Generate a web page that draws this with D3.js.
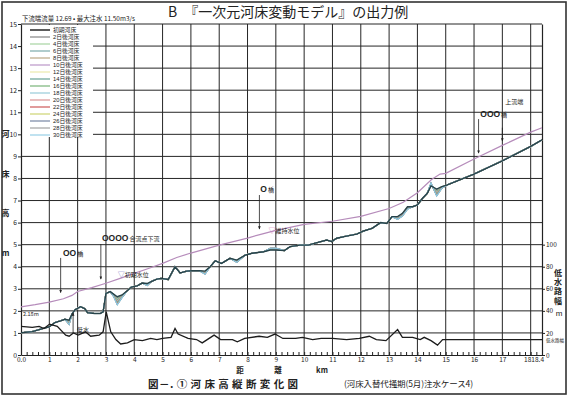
<!DOCTYPE html>
<html>
<head>
<meta charset="utf-8">
<script src="https://cdn.jsdelivr.net/npm/d3@7"></script>
<style>
  html, body { margin: 0; padding: 0; background: #fff; }
  svg { display: block; font-family: "Noto Sans CJK JP", "Noto Sans", sans-serif; }
</style>
</head>
<body>
<div id="chart"></div>
<script>
// --- data ---
const bedKm = [0,0.4,0.8,1.0,1.2,1.4,1.55,1.7,1.8,1.9, 2.1,2.25,2.35,2.6,2.8,2.9,3.0,3.15,3.27,3.4,
  3.57,3.75,3.9,4.1,4.28,4.46,4.6,4.8,4.95,5.2, 5.44,5.62,5.85,6.05,6.3,6.5,6.68,6.86,7.08,7.38,
  7.62,7.92,8.16,8.57,8.8,9.0,9.3,9.5,9.85,10.15, 10.45,10.8,10.97,11.15,11.5,11.86,12.1,12.4,12.7,12.92,
  13.1,13.3,13.47,13.65,13.83,14.0,14.18,14.35,14.48,14.68, 14.86,15.04,16.0,17.0,18.0,18.4];

const initialBed = [1.01,1.06,1.21,1.28,1.47,1.55,1.62,1.58,1.85,2.04, 2.19,2.1,1.92,1.88,1.88,1.96,2.79,2.87,2.76,2.64,
  2.72,2.91,3.08,3.13,3.26,3.24,3.33,3.44,3.47,3.42, 4.0,3.72,3.8,3.82,3.82,3.8,4.0,4.27,4.15,4.38,
  4.3,4.53,4.61,4.68,4.76,4.76,4.73,4.91,4.98,4.98, 5.09,5.21,5.14,5.29,5.39,5.48,5.62,5.74,6.0,5.96,
  6.27,6.27,6.42,6.72,6.72,6.8,7.1,7.33,7.66,7.52, 7.63,7.7,8.2,8.8,9.45,9.75];

const dayLabels = ["2日後河床","4日後河床","6日後河床","8日後河床","10日後河床","12日後河床","14日後河床",
  "16日後河床","18日後河床","20日後河床","22日後河床","24日後河床","26日後河床","28日後河床","30日後河床"];

const dayColors = ["#7a7a7a","#9fcf9a","#6fa3a3","#b59f78","#b48cc4","#e9e7a4","#5a9a8a",
  "#6cae6c","#8fc6d6","#d88a8a","#c84a4a","#c9d064","#6a7a9c","#9a9a9a","#8ccbe4"];

const dayBeds = [
  [1.01,1.06,1.21,1.28,1.47,1.55,1.62,1.55,1.85,2.04, 2.19,2.1,1.92,1.88,1.88,1.96,2.79,2.87,2.75,2.58, 2.71,2.91,3.08,3.13,3.26,3.23,3.33,3.44,3.47,3.42, 4.0,3.72,3.8,3.82,3.82,3.78,4.0,4.27,4.15,4.38, 4.29,4.53,4.61,4.68,4.77,4.77,4.73,4.91,4.98,4.98, 5.09,5.21,5.14,5.29,5.39,5.48,5.62,5.74,6.0,5.96, 6.27,6.25,6.40,6.71,6.72,6.8,7.1,7.33,7.68,7.48, 7.62,7.7,8.2,8.8,9.45,9.75],
  [1.01,1.06,1.21,1.28,1.47,1.55,1.62,1.52,1.85,2.04, 2.19,2.1,1.92,1.88,1.88,1.96,2.79,2.87,2.74,2.53, 2.70,2.91,3.08,3.13,3.26,3.22,3.33,3.44,3.47,3.42, 4.0,3.72,3.8,3.82,3.82,3.76,4.0,4.27,4.15,4.38, 4.28,4.53,4.61,4.68,4.78,4.78,4.73,4.91,4.98,4.98, 5.09,5.21,5.14,5.29,5.39,5.48,5.62,5.74,6.0,5.96, 6.27,6.24,6.39,6.70,6.72,6.8,7.1,7.33,7.70,7.44, 7.61,7.7,8.2,8.8,9.45,9.75],
  [1.01,1.06,1.21,1.28,1.47,1.55,1.62,1.50,1.85,2.04, 2.19,2.1,1.92,1.88,1.88,1.96,2.79,2.87,2.73,2.49, 2.69,2.91,3.08,3.13,3.26,3.21,3.33,3.44,3.47,3.42, 4.0,3.72,3.8,3.82,3.82,3.75,4.0,4.27,4.15,4.38, 4.27,4.53,4.61,4.68,4.78,4.79,4.73,4.91,4.98,4.98, 5.09,5.21,5.14,5.29,5.39,5.48,5.62,5.74,6.0,5.96, 6.27,6.23,6.38,6.69,6.72,6.8,7.1,7.33,7.71,7.41, 7.60,7.7,8.2,8.8,9.45,9.75],
  [1.01,1.06,1.21,1.28,1.47,1.55,1.62,1.48,1.85,2.04, 2.19,2.1,1.92,1.88,1.88,1.96,2.79,2.87,2.72,2.45, 2.68,2.91,3.08,3.13,3.26,3.20,3.33,3.44,3.47,3.42, 4.0,3.72,3.8,3.82,3.82,3.74,4.0,4.27,4.15,4.38, 4.26,4.53,4.61,4.68,4.79,4.80,4.73,4.91,4.98,4.98, 5.09,5.21,5.14,5.29,5.39,5.48,5.62,5.74,6.0,5.96, 6.27,6.22,6.37,6.68,6.72,6.8,7.1,7.33,7.72,7.38, 7.60,7.7,8.2,8.8,9.45,9.75],
  [1.01,1.06,1.21,1.28,1.47,1.55,1.62,1.46,1.85,2.04, 2.19,2.1,1.92,1.88,1.88,1.96,2.79,2.87,2.71,2.42, 2.67,2.91,3.08,3.13,3.26,3.20,3.33,3.44,3.47,3.42, 4.0,3.72,3.8,3.82,3.82,3.73,4.0,4.27,4.15,4.38, 4.25,4.53,4.61,4.68,4.80,4.80,4.73,4.91,4.98,4.98, 5.09,5.21,5.14,5.29,5.39,5.48,5.62,5.74,6.0,5.96, 6.27,6.21,6.36,6.67,6.72,6.8,7.1,7.33,7.73,7.35, 7.59,7.7,8.2,8.8,9.45,9.75],
  [1.01,1.06,1.21,1.28,1.47,1.55,1.62,1.45,1.85,2.04, 2.19,2.1,1.92,1.88,1.88,1.96,2.79,2.87,2.70,2.40, 2.66,2.91,3.08,3.13,3.26,3.19,3.33,3.44,3.47,3.42, 4.0,3.72,3.8,3.82,3.82,3.72,4.0,4.27,4.15,4.38, 4.24,4.53,4.61,4.68,4.80,4.81,4.73,4.91,4.98,4.98, 5.09,5.21,5.14,5.29,5.39,5.48,5.62,5.74,6.0,5.96, 6.27,6.20,6.35,6.66,6.72,6.8,7.1,7.33,7.74,7.33, 7.59,7.7,8.2,8.8,9.45,9.75],
  [1.01,1.06,1.21,1.28,1.47,1.55,1.62,1.44,1.85,2.04, 2.19,2.1,1.92,1.88,1.88,1.96,2.79,2.87,2.70,2.38, 2.65,2.91,3.08,3.13,3.26,3.18,3.33,3.44,3.47,3.42, 4.0,3.72,3.8,3.82,3.82,3.71,4.0,4.27,4.15,4.38, 4.24,4.53,4.61,4.68,4.81,4.81,4.73,4.91,4.98,4.98, 5.09,5.21,5.14,5.29,5.39,5.48,5.62,5.74,6.0,5.96, 6.27,6.19,6.34,6.65,6.72,6.8,7.1,7.33,7.75,7.31, 7.58,7.7,8.2,8.8,9.45,9.75],
  [1.01,1.06,1.21,1.28,1.47,1.55,1.62,1.43,1.85,2.04, 2.19,2.1,1.92,1.88,1.88,1.96,2.79,2.87,2.69,2.36, 2.64,2.91,3.08,3.13,3.26,3.18,3.33,3.44,3.47,3.42, 4.0,3.72,3.8,3.82,3.82,3.70,4.0,4.27,4.15,4.38, 4.23,4.53,4.61,4.68,4.81,4.82,4.73,4.91,4.98,4.98, 5.09,5.21,5.14,5.29,5.39,5.48,5.62,5.74,6.0,5.96, 6.27,6.18,6.33,6.64,6.72,6.8,7.1,7.33,7.76,7.29, 7.58,7.7,8.2,8.8,9.45,9.75],
  [1.01,1.06,1.21,1.28,1.47,1.55,1.62,1.42,1.85,2.04, 2.19,2.1,1.92,1.88,1.88,1.96,2.79,2.87,2.68,2.34, 2.63,2.91,3.08,3.13,3.26,3.17,3.33,3.44,3.47,3.42, 4.0,3.72,3.8,3.82,3.82,3.70,4.0,4.27,4.15,4.38, 4.22,4.53,4.61,4.68,4.82,4.82,4.73,4.91,4.98,4.98, 5.09,5.21,5.14,5.29,5.39,5.48,5.62,5.74,6.0,5.96, 6.27,6.18,6.33,6.64,6.72,6.8,7.1,7.33,7.76,7.27, 7.57,7.7,8.2,8.8,9.45,9.75],
  [1.01,1.06,1.21,1.28,1.47,1.55,1.62,1.41,1.85,2.04, 2.19,2.1,1.92,1.88,1.88,1.96,2.79,2.87,2.68,2.33, 2.63,2.91,3.08,3.13,3.26,3.17,3.33,3.44,3.47,3.42, 4.0,3.72,3.8,3.82,3.82,3.69,4.0,4.27,4.15,4.38, 4.22,4.53,4.61,4.68,4.82,4.83,4.73,4.91,4.98,4.98, 5.09,5.21,5.14,5.29,5.39,5.48,5.62,5.74,6.0,5.96, 6.27,6.17,6.32,6.63,6.72,6.8,7.1,7.33,7.77,7.26, 7.57,7.7,8.2,8.8,9.45,9.75],
  [1.01,1.06,1.21,1.28,1.47,1.55,1.62,1.40,1.85,2.04, 2.19,2.1,1.92,1.88,1.88,1.96,2.79,2.87,2.67,2.31, 2.62,2.91,3.08,3.13,3.26,3.16,3.33,3.44,3.47,3.42, 4.0,3.72,3.8,3.82,3.82,3.68,4.0,4.27,4.15,4.38, 4.21,4.53,4.61,4.68,4.83,4.83,4.73,4.91,4.98,4.98, 5.09,5.21,5.14,5.29,5.39,5.48,5.62,5.74,6.0,5.96, 6.27,6.17,6.32,6.63,6.72,6.8,7.1,7.33,7.78,7.24, 7.56,7.7,8.2,8.8,9.45,9.75],
  [1.01,1.06,1.21,1.28,1.47,1.55,1.62,1.40,1.85,2.04, 2.19,2.1,1.92,1.88,1.88,1.96,2.79,2.87,2.67,2.30, 2.62,2.91,3.08,3.13,3.26,3.16,3.33,3.44,3.47,3.42, 4.0,3.72,3.8,3.82,3.82,3.68,4.0,4.27,4.15,4.38, 4.21,4.53,4.61,4.68,4.83,4.84,4.73,4.91,4.98,4.98, 5.09,5.21,5.14,5.29,5.39,5.48,5.62,5.74,6.0,5.96, 6.27,6.16,6.31,6.62,6.72,6.8,7.1,7.33,7.78,7.23, 7.56,7.7,8.2,8.8,9.45,9.75],
  [1.01,1.06,1.21,1.28,1.47,1.55,1.62,1.39,1.85,2.04, 2.19,2.1,1.92,1.88,1.88,1.96,2.79,2.87,2.66,2.29, 2.61,2.91,3.08,3.13,3.26,3.15,3.33,3.44,3.47,3.42, 4.0,3.72,3.8,3.82,3.82,3.67,4.0,4.27,4.15,4.38, 4.20,4.53,4.61,4.68,4.83,4.84,4.73,4.91,4.98,4.98, 5.09,5.21,5.14,5.29,5.39,5.48,5.62,5.74,6.0,5.96, 6.27,6.16,6.31,6.62,6.72,6.8,7.1,7.33,7.79,7.22, 7.56,7.7,8.2,8.8,9.45,9.75],
  [1.01,1.06,1.21,1.28,1.47,1.55,1.62,1.38,1.85,2.04, 2.19,2.1,1.92,1.88,1.88,1.96,2.79,2.87,2.66,2.28, 2.61,2.91,3.08,3.13,3.26,3.15,3.33,3.44,3.47,3.42, 4.0,3.72,3.8,3.82,3.82,3.67,4.0,4.27,4.15,4.38, 4.20,4.53,4.61,4.68,4.84,4.85,4.73,4.91,4.98,4.98, 5.09,5.21,5.14,5.29,5.39,5.48,5.62,5.74,6.0,5.96, 6.27,6.15,6.30,6.61,6.72,6.8,7.1,7.33,7.79,7.21, 7.55,7.7,8.2,8.8,9.45,9.75],
  [1.01,1.06,1.21,1.28,1.47,1.55,1.62,1.38,1.85,2.04, 2.19,2.1,1.92,1.88,1.88,1.96,2.79,2.87,2.65,2.27, 2.60,2.91,3.08,3.13,3.26,3.15,3.33,3.44,3.47,3.42, 4.0,3.72,3.8,3.82,3.82,3.66,4.0,4.27,4.15,4.38, 4.20,4.53,4.61,4.68,4.84,4.85,4.73,4.91,4.98,4.98, 5.09,5.21,5.14,5.29,5.39,5.48,5.62,5.74,6.0,5.96, 6.27,6.15,6.30,6.60,6.72,6.8,7.1,7.33,7.80,7.20, 7.55,7.7,8.2,8.8,9.45,9.75]
];

const waterKm = [0,0.5,1,1.5,1.8,2,2.5,3,3.5,4,4.5,5,5.5,6,7,8,8.5,9,10,11,12,13,13.5,14,14.5,14.8,15,16,17,18,18.4];
const waterLevel = [2.18,2.28,2.4,2.55,2.7,2.88,3.05,3.25,3.47,3.7,3.92,4.15,4.42,4.62,4.98,5.3,5.48,5.65,5.92,6.06,6.28,6.64,6.92,7.35,7.95,8.2,8.23,8.88,9.5,10.1,10.3];

const widthKm = [0,0.4,0.64,0.81,1.01,1.28,1.58,1.7,1.85,2.02, 2.28,2.46,2.76,2.9,3.01,3.17,3.35,3.52,3.76,4.0,
  4.29,4.58,4.8,5.0,5.3,5.44,5.55,5.9,6.2,6.4, 6.82,7.05,7.47,7.64,7.9,8.41,8.7,8.97,9.25,9.7,
  9.94,10.3,10.6,11.0,11.5,11.95,12.3,12.55,12.89,13.3, 13.47,13.83,14.1,14.24,14.48,14.71,14.89,15.0,18.4];
const lowChannelWidth = [26,25,26,24,28,26,18,17,20,18, 21,17,18,21,39,21,14,10,11,14,
  13,15,14,15,16,24,19,15,14,11, 18,14,14,12,15,17,16,19,15,15,
  16,14,15,15,14,15,17,14,13,23, 16,16,14,16,13,9,14,14,14];

const xTicks = [0,1,2,3,4,5,6,7,8,9,10,11,12,13,14,15,16,17,18,18.4];
const yTicks = [0,1,2,3,4,5,6,7,8,9,10,11,12,13,14,15];
const widthTicks = [0,20,40,60,80,100];

// --- chart ---
const W = 570, H = 398;
const ink = "#222";
const cjk = "'Noto Sans CJK JP', 'Noto Sans', sans-serif";
const latinFirst = "'Liberation Sans', 'Noto Sans CJK JP', sans-serif";

const x = d3.scaleLinear().domain([0, 18.4]).range([21, 542]);
const y = d3.scaleLinear().domain([0, 15]).range([355, 24]);
const yW = d3.scaleLinear().domain([0, 300]).range([355, 24]);

const svg = d3.select("#chart").append("svg")
    .attr("width", W)
    .attr("height", H)
    .attr("viewBox", [0, 0, W, H]);

svg.append("rect").attr("width", W).attr("height", H).attr("fill", "#fff");

// outer frame
svg.append("rect")
    .attr("x", 2).attr("y", 2).attr("width", 564).attr("height", 392)
    .attr("fill", "none").attr("stroke", "#333").attr("stroke-width", 1.6);

// title
svg.append("text")
    .attr("x", 168).attr("y", 17)
    .attr("font-size", 14).attr("fill", ink)
    .text("B　『一次元河床変動モデル』の出力例");

svg.append("text")
    .attr("x", 22).attr("y", 20.5)
    .attr("font-size", 6.5).attr("fill", ink)
    .attr("textLength", 113).attr("lengthAdjust", "spacingAndGlyphs")
    .text("下流端流量 12.69 • 最大注水 11.50m3/s");

// grid
const grid = svg.append("g").attr("stroke", "#262626").attr("stroke-width", 1);
grid.selectAll(".v").data(xTicks.filter(d => d > 0 && d < 18.4)).join("line")
    .attr("x1", d => x(d)).attr("x2", d => x(d))
    .attr("y1", y(0)).attr("y2", y(15));
grid.selectAll(".h").data(yTicks.filter(d => d > 0)).join("line")
    .attr("x1", x(0)).attr("x2", x(18.4))
    .attr("y1", d => y(d)).attr("y2", d => y(d));

// legend backdrop hides the grid
svg.append("rect").attr("x", 22).attr("y", 25).attr("width", 71).attr("height", 112).attr("fill", "#fff");

// axes
const styleAxis = g => g.attr("font-family", cjk).attr("fill", ink)
    .call(g => g.selectAll("text").attr("fill", ink))
    .call(g => g.selectAll("line,path").attr("stroke", ink));

svg.append("g")
    .attr("transform", `translate(${x(0)},0)`)
    .call(d3.axisLeft(y).tickValues(yTicks).tickSize(3).tickPadding(1).tickSizeOuter(0))
    .call(styleAxis)
    .attr("font-size", 6.8)
    .call(g => g.select(".domain").attr("stroke-width", 1.2));

svg.append("g")
    .attr("transform", `translate(0,${y(0)})`)
    .call(d3.axisBottom(x).tickValues(xTicks).tickSize(0).tickPadding(2.5)
        .tickFormat(d => d === 0 ? "0.0" : d))
    .call(styleAxis)
    .attr("font-size", 6.5)
    .call(g => g.select(".domain").attr("stroke-width", 1.2))
    .call(g => g.selectAll(".tick text").filter(d => d === 18.4).attr("text-anchor", "end").attr("dx", 1.5))
    .call(g => g.selectAll(".tick text").filter(d => d === 18).attr("dx", -3.5));

// minor ticks every 0.2 km, pointing inward
svg.append("g")
    .attr("transform", `translate(0,${y(0)})`)
    .call(d3.axisTop(x).tickValues(d3.range(0.2, 18.4, 0.2)).tickSize(3).tickFormat(""))
    .call(g => g.select(".domain").remove())
    .call(g => g.selectAll("line").attr("stroke", ink));

svg.append("g")
    .attr("transform", `translate(${x(18.4)},0)`)
    .call(d3.axisRight(yW).tickValues(widthTicks).tickSize(3).tickPadding(1).tickSizeOuter(0))
    .call(styleAxis)
    .attr("font-size", 6.5)
    .call(g => g.select(".domain").attr("stroke-width", 1.2));

// axis titles
svg.append("g").attr("font-family", cjk).attr("font-size", 8).attr("font-weight", "bold")
    .attr("fill", ink).attr("text-anchor", "middle")
    .selectAll("text").data(["河", "床", "高", "m"]).join("text")
    .attr("x", 5.5).attr("y", (d, i) => 137 + i * 39.5)
    .text(d => d);

svg.append("g").attr("font-family", latinFirst).attr("font-size", 8).attr("font-weight", "bold")
    .attr("fill", ink).attr("text-anchor", "middle")
    .selectAll("text").data(["低", "水", "路", "幅"]).join("text")
    .attr("x", 558).attr("y", (d, i) => 276 + i * 9.2)
    .text(d => d);
svg.append("text").attr("x", 559).attr("y", 316).attr("font-size", 8)
    .attr("font-family", latinFirst)
    .attr("text-anchor", "middle").attr("fill", ink).text("m");

svg.append("g").attr("font-family", cjk).attr("font-size", 7.5).attr("font-weight", "bold")
    .attr("fill", ink).attr("text-anchor", "middle")
    .selectAll("text").data([["距", 240], ["離", 278], ["km", 322]]).join("text")
    .attr("x", d => d[1]).attr("y", 372.5)
    .text(d => d[0]);

svg.append("text")
    .attr("x", 546).attr("y", 342).attr("font-size", 4.5).attr("fill", ink)
    .text("低水路幅");

// captions
svg.append("text")
    .attr("x", 148).attr("y", 388)
    .attr("font-size", 10.5).attr("font-weight", "bold").attr("fill", ink)
    .attr("textLength", 150)
    .text("図－. ① 河 床 高 縦 断 変 化 図");

svg.append("text")
    .attr("x", 344).attr("y", 387)
    .attr("font-size", 8.5).attr("fill", ink)
    .attr("textLength", 129)
    .text("(河床入替代掻期(5月)注水ケース4)");

// series
const bedLine = vals => d3.line().x((d, i) => x(bedKm[i])).y(d => y(d))(vals);

svg.append("g")
    .selectAll("path")
    .data(dayBeds)
    .join("path")
    .attr("d", d => bedLine(d))
    .attr("fill", "none")
    .attr("stroke", (d, i) => dayColors[i])
    .attr("stroke-width", 1.1);

svg.append("path")
    .attr("d", bedLine(initialBed))
    .attr("fill", "none")
    .attr("stroke", "#27434a")
    .attr("stroke-width", 1.4);

svg.append("path")
    .attr("d", d3.line().x((d, i) => x(waterKm[i])).y(d => y(d))(waterLevel))
    .attr("fill", "none")
    .attr("stroke", "#b68cbb")
    .attr("stroke-width", 1.2);

svg.append("path")
    .attr("d", d3.line().x((d, i) => x(widthKm[i])).y(d => yW(d))(lowChannelWidth))
    .attr("fill", "none")
    .attr("stroke", "#1c1c1c")
    .attr("stroke-width", 1.3);

// legend
const legendItems = ["初期河床"].concat(dayLabels);
const legendColors = ["#333"].concat(dayColors);
const legend = svg.append("g")
    .attr("font-family", latinFirst)
    .attr("font-size", 5.8).attr("fill", ink);
legend.selectAll("line").data(legendItems).join("line")
    .attr("x1", 30).attr("x2", 50)
    .attr("y1", (d, i) => 30 + i * 7).attr("y2", (d, i) => 30 + i * 7)
    .attr("stroke", (d, i) => legendColors[i])
    .attr("stroke-width", (d, i) => i === 0 ? 1.6 : 1.1);
legend.selectAll("text").data(legendItems).join("text")
    .attr("x", 53).attr("y", (d, i) => 30 + i * 7)
    .attr("dy", "0.35em")
    .text(d => d);

// annotations
svg.append("defs").append("marker")
    .attr("id", "arr").attr("viewBox", "0 0 6 6").attr("refX", 5).attr("refY", 3)
    .attr("markerWidth", 4).attr("markerHeight", 4).attr("orient", "auto")
    .append("path").attr("d", "M0,0.5L6,3L0,5.5Z").attr("fill", ink);

const arrow = (km, m1, m2) => svg.append("line")
    .attr("x1", x(km)).attr("x2", x(km))
    .attr("y1", y(m1)).attr("y2", y(m2))
    .attr("stroke", ink).attr("stroke-width", 0.8)
    .attr("marker-end", "url(#arr)");

const bridge = (km, m, os, rest) => {
    const t = svg.append("text").attr("x", x(km)).attr("y", y(m)).attr("fill", ink);
    t.append("tspan").attr("font-family", "'Liberation Sans', sans-serif")
        .attr("font-weight", "bold").attr("font-size", 8.5).text(os);
    t.append("tspan").attr("font-size", 6).attr("dx", 1).text(rest);
};

bridge(1.48, 4.49, "OO", "橋");
arrow(1.4, 4.4, 2.83);

bridge(2.86, 5.17, "OOOO", "合流点下流");
arrow(2.82, 5.03, 3.44);

bridge(8.45, 7.39, "O", "橋");
arrow(8.42, 7.25, 5.71);

bridge(16.22, 10.78, "OOO", "橋");
arrow(16.16, 10.69, 9.15);

svg.append("text").attr("x", x(17.1)).attr("y", y(11.37))
    .attr("font-size", 6).attr("fill", ink).text("上流端");
arrow(17.0, 10.3, 9.7);

svg.append("text").attr("x", x(3.42)).attr("y", y(3.53))
    .attr("font-size", 6).attr("fill", ink)
    .call(t => t.append("tspan").attr("fill", "#6c6cc0").attr("font-size", 7).text("▽"))
    .call(t => t.append("tspan").text("初期水位"));

svg.append("text").attr("x", x(8.74)).attr("y", y(5.53))
    .attr("font-size", 6).attr("fill", ink)
    .call(t => t.append("tspan").attr("fill", "#d070b0").attr("font-size", 7).text("▽"))
    .call(t => t.append("tspan").text("維持水位"));

svg.append("text").attr("x", x(0.07)).attr("y", y(1.77))
    .attr("font-size", 5.5).attr("fill", ink).text("2.18m");

svg.append("text").attr("x", x(1.98)).attr("y", y(1.04))
    .attr("font-size", 6).attr("fill", ink).text("低水");
arrow(1.84, 1.0, 1.9);
</script>
</body>
</html>
